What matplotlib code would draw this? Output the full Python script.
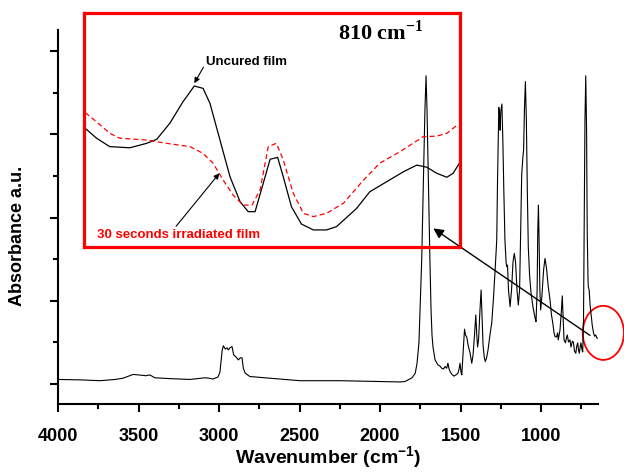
import matplotlib
matplotlib.use("Agg")
from matplotlib import pyplot as plt
from matplotlib.patches import Ellipse
from matplotlib.ticker import MultipleLocator

# FTIR spectrum of the uncured film
wavenumber = [4000, 3863, 3739, 3646, 3596, 3534, 3503, 3453, 3430, 3398, 3304, 3180, 3087, 3062, 3037,
              3006, 2994, 2980, 2973, 2961, 2950, 2942, 2932, 2919, 2909, 2894, 2880, 2868, 2857, 2849,
              2837, 2808, 2745, 2621, 2497, 2248, 2000, 1876, 1845, 1801, 1781, 1770, 1758, 1749, 1741,
              1733, 1727, 1721, 1714, 1708, 1702, 1696, 1690, 1683, 1677, 1671, 1658, 1640, 1627, 1617,
              1606, 1596, 1586, 1578, 1572, 1565, 1553, 1540, 1528, 1516, 1509, 1503, 1497, 1492, 1487,
              1481, 1475, 1469, 1461, 1453, 1441, 1430, 1422, 1413, 1405, 1399, 1394, 1388, 1379, 1372,
              1366, 1360, 1352, 1346, 1338, 1329, 1317, 1306, 1296, 1286, 1275, 1270, 1262, 1257, 1254,
              1250, 1243, 1237, 1231, 1224, 1217, 1213, 1208, 1202, 1192, 1183, 1174, 1166, 1158, 1149,
              1141, 1133, 1126, 1120, 1113, 1108, 1103, 1097, 1091, 1085, 1079, 1071, 1062, 1049, 1037,
              1031, 1024, 1020, 1016, 1012, 1007, 1002, 994, 984, 975, 966, 955, 944, 935, 927,
              919, 913, 904, 897, 893, 882, 873, 868, 862, 857, 848, 842, 837, 829, 820,
              814, 805, 799, 792, 784, 778, 772, 767, 762, 756, 752, 745, 741, 736, 731,
              727, 722, 717, 713, 708, 706, 701, 695, 690, 682, 674, 667, 660, 654, 646]
absorbance = [0.11, 0.10, 0.08, 0.11, 0.14, 0.23, 0.22, 0.20, 0.22, 0.15, 0.13, 0.11, 0.15, 0.14, 0.12,
              0.17, 0.29, 0.82, 0.92, 0.84, 0.87, 0.82, 0.87, 0.90, 0.70, 0.65, 0.58, 0.63, 0.63, 0.38,
              0.26, 0.18, 0.16, 0.12, 0.08, 0.08, 0.06, 0.05, 0.06, 0.15, 0.26, 0.50, 1.00, 2.02, 2.98,
              4.42, 5.38, 6.59, 7.41, 6.59, 5.38, 4.18, 2.98, 1.78, 1.18, 0.89, 0.58, 0.46, 0.43, 0.38,
              0.36, 0.42, 0.38, 0.50, 0.38, 0.30, 0.23, 0.19, 0.22, 0.26, 0.36, 0.50, 0.29, 0.22, 0.53,
              0.94, 1.32, 1.18, 1.13, 0.94, 0.75, 0.50, 0.70, 1.18, 1.66, 1.18, 0.89, 1.06, 1.78, 2.26,
              1.59, 0.94, 0.63, 0.54, 0.63, 0.82, 1.18, 1.47, 2.02, 2.67, 3.46, 4.90, 6.65, 6.47, 6.10,
              6.54, 6.73, 5.87, 4.66, 3.46, 2.93, 2.82, 2.86, 2.26, 1.86, 2.26, 2.93, 3.14, 2.93, 2.26,
              1.90, 2.26, 3.70, 5.02, 5.43, 5.63, 6.59, 7.27, 6.35, 4.66, 3.30, 2.62, 2.19, 1.83, 1.59,
              1.50, 2.26, 3.70, 4.30, 3.46, 2.26, 1.78, 2.14, 2.74, 3.02, 2.79, 2.34, 2.02, 1.66, 1.47,
              1.23, 1.14, 1.13, 1.23, 1.06, 1.30, 1.78, 2.12, 1.54, 1.06, 0.99, 1.11, 1.18, 1.01, 1.06,
              0.89, 1.03, 1.01, 0.79, 0.74, 0.91, 0.99, 0.82, 0.74, 0.91, 0.99, 0.82, 0.77, 1.54, 4.42,
              6.35, 7.41, 6.11, 3.70, 2.50, 2.34, 2.26, 1.90, 1.71, 1.42, 1.23, 1.15, 1.18, 1.11, 1.10]

# inset: zoom on the 810 cm-1 band
inset_wn = [829.8, 828.0, 825.9, 822.7, 820.0, 818.4, 816.3, 814.2, 812.4, 811.0, 809.9, 808.3,
            806.7, 805.1, 803.8, 802.7, 801.4, 800.3, 799.1, 798.2, 796.9, 795.3, 793.4, 791.3,
            789.7, 786.5, 784.4, 781.7, 779.0, 776.9, 775.3, 773.7, 772.1, 771.1, 770.1]
uncured = [0.507, 0.465, 0.429, 0.424, 0.443, 0.460, 0.529, 0.621, 0.688, 0.678, 0.614, 0.457,
           0.300, 0.194, 0.151, 0.151, 0.272, 0.375, 0.383, 0.300, 0.172, 0.098, 0.073, 0.073,
           0.087, 0.165, 0.236, 0.279, 0.322, 0.350, 0.341, 0.315, 0.298, 0.315, 0.358]
irr_wn = [829.8, 828.0, 825.9, 824.3, 820.0, 816.8, 813.1, 811.0, 809.4, 807.8, 806.2, 804.6,
          803.2, 801.9, 800.6, 799.3, 798.2, 796.6, 795.0, 793.4, 791.3, 788.6, 785.4, 782.8,
          779.6, 775.9, 773.7, 772.1, 770.3]
irradiated = [0.574, 0.535, 0.486, 0.465, 0.457, 0.443, 0.429, 0.400, 0.358, 0.286, 0.222, 0.179,
              0.179, 0.244, 0.429, 0.443, 0.372, 0.229, 0.144, 0.130, 0.144, 0.187, 0.286, 0.358,
              0.407, 0.471, 0.474, 0.486, 0.524]

plt.rcParams['font.family'] = ['Liberation Sans', 'DejaVu Sans']
plt.rcParams['font.weight'] = 'bold'

fig = plt.figure(figsize=(6.24, 4.74), dpi=100)
ax = fig.add_axes([58 / 624, 1 - 404 / 474, 540 / 624, 374 / 474])

ax.plot(wavenumber, absorbance, color='black', lw=0.8)
ax.set_xlim(4000, 646)
ax.set_ylim(-0.48, 8.51)

ax.spines['top'].set_visible(False)
ax.spines['right'].set_visible(False)
ax.spines['left'].set_linewidth(1.5)
ax.spines['bottom'].set_linewidth(1.5)

ax.set_xticks([4000, 3500, 3000, 2500, 2000, 1500, 1000])
ax.xaxis.set_minor_locator(MultipleLocator(250))
ax.set_yticks([0, 2, 4, 6, 8])
ax.set_yticklabels([])
ax.yaxis.set_minor_locator(MultipleLocator(1))
ax.tick_params(which='major', direction='out', length=6, width=1.5, labelsize=13, pad=11)
ax.tick_params(which='minor', direction='out', length=3.5, width=1.5)

ax.set_xlabel('Wavenumber (cm$^{\\mathregular{-1}}$)', fontsize=14, fontweight='bold', labelpad=0)
ax.set_ylabel('Absorbance a.u.', fontsize=13, fontweight='bold', va='center')
ax.yaxis.set_label_coords(-0.075, (404 - 236) / 374)

# red circle around the 810 band and arrow to the inset
ax.add_patch(Ellipse((613, 1.23), 256, 1.3, fill=False, ec='red', lw=1.3, clip_on=False))
ax.annotate('', xy=(1669, 3.74), xytext=(696, 1.17),
            arrowprops=dict(arrowstyle='-|>', color='black', lw=1.0, mutation_scale=15,
                            shrinkA=0, shrinkB=0))

axin = fig.add_axes([84 / 624, 1 - 247 / 474, 376 / 624, 234 / 474])
axin.set_facecolor('none')
axin.plot(inset_wn, uncured, color='black', lw=0.9)
axin.plot(irr_wn, irradiated, color='red', lw=0.9, linestyle=(0, (4, 2.5)))
axin.set_xlim(830, 770)
axin.set_ylim(0, 1)
axin.set_xticks([])
axin.set_yticks([])
for s in axin.spines.values():
    s.set_color('red')
    s.set_linewidth(2.3)

axin.text(782.6, 0.915, '810 cm$^{\\mathregular{-1}}$', family=['Liberation Serif'],
          fontsize=16, fontweight='bold', ha='center', va='center')
axin.annotate('Uncured film', xy=(812.4, 0.70), xytext=(810.5, 0.789), ha='left', va='center',
              fontsize=9.5, fontweight='bold',
              arrowprops=dict(arrowstyle='-|>', color='black', lw=0.8, mutation_scale=8,
                              shrinkA=0, shrinkB=0, relpos=(0, 0.5)))
axin.annotate('30 seconds irradiated film', xy=(808.4, 0.315), xytext=(827.9, 0.051),
              ha='left', va='center', fontsize=9.5, fontweight='bold', color='red',
              arrowprops=dict(arrowstyle='-|>', color='black', lw=0.8, mutation_scale=8,
                              shrinkA=0, shrinkB=0, relpos=(0.47, 1)))

plt.savefig('out.png', dpi=100)
